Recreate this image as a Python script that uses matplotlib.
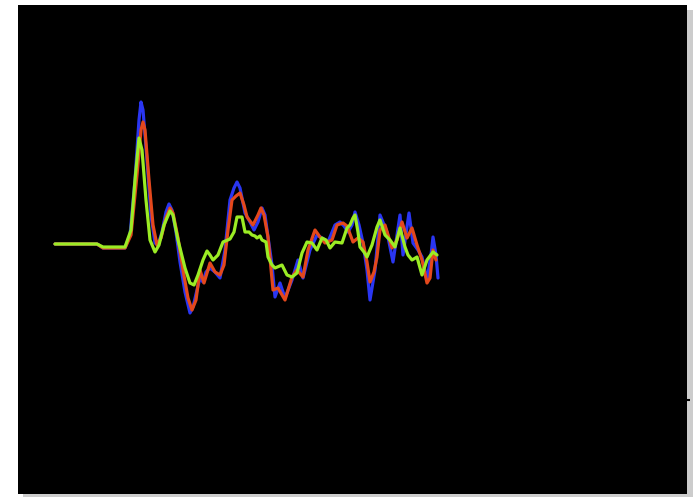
import matplotlib
matplotlib.use("Agg")
import matplotlib.pyplot as plt

# sample positions (frames) and signal values
t_blue = [0, 42, 48, 70, 75, 80, 84, 86, 88, 92, 96, 100, 103, 107, 111, 114, 117, 121, 125, 130,
          135, 138, 142, 145, 148, 151, 155, 160, 165, 170, 175, 179, 182, 185, 190, 195, 199, 203,
          207, 210, 213, 217, 220, 225, 230, 237, 243, 248, 255, 262, 267, 273, 280, 285, 289, 293,
          297, 300, 304, 308, 312, 315, 320, 325, 332, 338, 345, 348, 354, 358, 363, 367, 372, 376,
          378, 381, 383]
v_blue = [0, 0, -4, -4, 9, 64, 124, 142, 134, 84, 29, 1, -1, 12, 32, 40, 34, 12, -18, -48,
          -69, -63, -46, -34, -38, -28, -24, -28, -34, -6, 44, 56, 62, 56, 31, 22, 14, 22,
          36, 29, 7, -21, -53, -39, -54, -36, -16, -34, -6, 9, 6, 2, 19, 22, 18, 12,
          19, 32, 19, 1, -26, -56, -26, 29, 12, -18, 29, -11, 31, 1, -6, -13, -36, -11,
          7, -11, -34]

t_red = [0, 42, 48, 70, 76, 82, 86, 88, 90, 94, 98, 102, 106, 111, 115, 118, 123, 128, 133, 137,
         141, 145, 149, 155, 160, 165, 169, 173, 177, 181, 185, 189, 192, 198, 203, 206, 209, 213,
         218, 223, 230, 237, 242, 248, 253, 260, 265, 270, 277, 282, 288, 292, 298, 303, 308, 312,
         315, 319, 322, 325, 330, 337, 342, 347, 352, 357, 362, 367, 372, 375, 378, 381]
v_red = [0, 0, -4, -4, 9, 69, 114, 122, 114, 64, 19, -1, 6, 26, 36, 31, 6, -26, -54, -66,
         -56, -26, -39, -19, -28, -31, -21, 14, 44, 48, 51, 39, 27, 19, 29, 36, 29, 7,
         -46, -44, -56, -33, -26, -33, -6, 14, 7, 1, 4, 19, 21, 18, 2, 6, 2, -18,
         -38, -28, -13, 14, 19, -4, 4, 22, 6, 16, -1, -16, -39, -34, -6, -16]

t_green = [0, 42, 48, 70, 76, 80, 84, 87, 91, 95, 100, 104, 109, 115, 118, 123, 130, 135, 139,
           143, 148, 152, 155, 158, 163, 168, 175, 179, 182, 187, 190, 194, 197, 200, 202, 205,
           207, 211, 213, 217, 220, 227, 232, 237, 242, 247, 252, 257, 262, 267, 271, 275, 280,
           287, 292, 295, 298, 300, 303, 305, 309, 312, 317, 322, 325, 330, 335, 340, 345, 350,
           353, 357, 362, 367, 372, 378, 382]
v_green = [0, 0, -3, -3, 14, 64, 106, 94, 44, 4, -8, -1, 19, 33, 29, 4, -24, -39, -41,
           -31, -16, -7, -11, -16, -11, 2, 5, 12, 27, 27, 12, 12, 9, 8, 6, 8,
           4, 2, -13, -21, -24, -21, -31, -33, -29, -9, 2, 1, -6, 6, 4, -4, 2,
           1, 16, 19, 26, 29, 12, -3, -8, -13, -1, 17, 24, 9, 4, -3, 16, -3,
           -11, -16, -13, -31, -16, -8, -11]

fig = plt.figure(figsize=(6.96, 4.97), dpi=100)
fig.patch.set_facecolor("white")

# drop shadow behind the plot area
shadow = fig.add_axes([23 / 696, 0, 670 / 696, 487 / 497], zorder=0)
shadow.set_facecolor("#cccccc")
shadow.set_xticks([])
shadow.set_yticks([])
for s in shadow.spines.values():
    s.set_visible(False)

ax = fig.add_axes([18 / 696, 3 / 497, 669 / 696, 489 / 497], zorder=1)
ax.set_facecolor("black")
kw = dict(lw=2.3, solid_joinstyle="round", solid_capstyle="round")
ax.plot(t_blue, v_blue, color="#2a36f2", **kw)
ax.plot(t_red, v_red, color="#e4481c", **kw)
ax.plot(t_green, v_green, color="#9bec24", **kw)

ax.set_xlim(-37, 632)
ax.set_ylim(-250, 239)
ax.set_xticks([])
ax.yaxis.tick_right()
ax.set_yticks([-156])
ax.set_yticklabels([])
ax.tick_params(axis="y", length=2, width=1.5, color="black")
for s in ax.spines.values():
    s.set_visible(False)

fig.savefig("out.png", dpi=100)
